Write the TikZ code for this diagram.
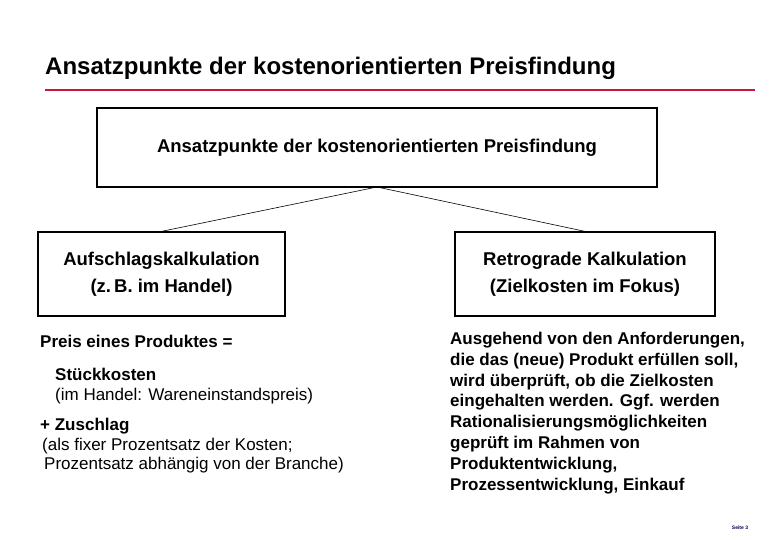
\documentclass[tikz,border=0pt]{standalone}
\usepackage{fontspec}
\setmainfont{Liberation Sans}
\definecolor{redline}{RGB}{205,20,60}
\begin{document}
\begin{tikzpicture}[x=1pt,y=-1pt,
  box/.style={draw,line width=1.2pt,inner sep=0pt},
  btxt/.style={font=\fontsize{18.5}{27}\selectfont\bfseries,align=center},
  ltxt/.style={anchor=north west,align=left,inner sep=0pt}]
\useasboundingbox (0,0) rectangle (777,540);
\node[anchor=west,font=\fontsize{24}{28}\selectfont\bfseries,inner sep=0pt] (title) at (45,68) {Ansatzpunkte der kostenorientierten Preisfindung};
\draw[redline,line width=1.4pt] (45,90) -- (755,90);
\node[box,minimum width=560pt,minimum height=79pt,btxt] (top) at (377,147.5) {Ansatzpunkte der kostenorientierten Preisfindung};
\node[box,minimum width=247pt,minimum height=84pt,btxt] (left) at (161.5,274) {Aufschlagskalkulation\\(z.\,B. im Handel)};
\node[box,minimum width=260pt,minimum height=84pt,btxt] (right) at (585,274) {Retrograde Kalkulation\\(Zielkosten im Fokus)};
\coordinate (j) at (377,187);
\draw[line width=0.6pt] (j) -- (left.north);
\draw[line width=0.6pt] (j) -- (right.north);
\node[ltxt,font=\fontsize{17}{19}\selectfont\bfseries] (l1) at (40,335) {Preis eines Produktes =};
\node[ltxt,font=\fontsize{17}{19.5}\selectfont] (l2) at (55,368) {\textbf{Stückkosten}\\(im Handel: Wareneinstandspreis)};
\node[ltxt,font=\fontsize{17}{19.5}\selectfont] (l3) at (40,418) {\textbf{+ Zuschlag}\\\hspace*{2pt}(als fixer Prozentsatz der Kosten;\\\hspace*{4pt}Prozentsatz abhängig von der Branche)};
\node[ltxt,font=\fontsize{17}{20.8}\selectfont\bfseries] (r1) at (450,332) {Ausgehend von den Anforderungen,\\die das (neue) Produkt erfüllen soll,\\wird überprüft, ob die Zielkosten\\eingehalten werden. Ggf. werden\\Rationalisierungsmöglichkeiten\\geprüft im Rahmen von\\Produktentwicklung,\\Prozessentwicklung, Einkauf};
\node[font=\fontsize{5}{6}\selectfont\bfseries,text=black!70!blue] (pg) at (740,528) {Seite 3};
\end{tikzpicture}
\end{document}
